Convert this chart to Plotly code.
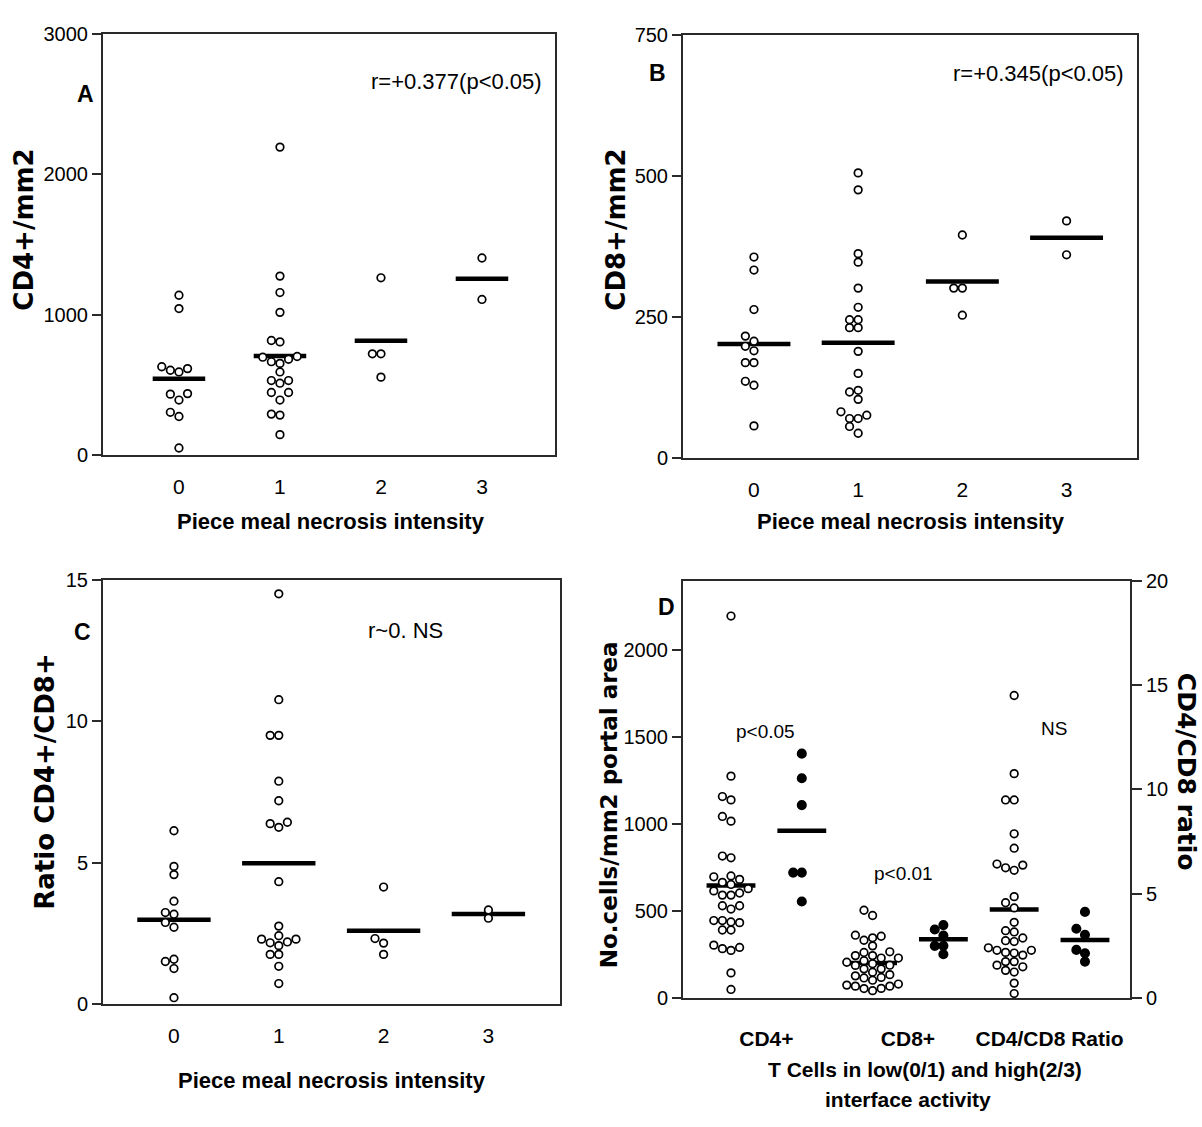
import plotly.graph_objects as go

W, H = 1202, 1127          # reference image size

# ---------------- data ----------------
grades = [0, 1, 2, 3]
grade_labels = ["0", "1", "2", "3"]

# Panel A: CD4+ cells / mm2 by piecemeal necrosis intensity
cd4_g0 = [1138, 1043, 629, 604, 592, 616, 438, 392, 434, 305, 275, 51]
cd4_g1 = [2192, 1274, 1157, 1016, 816, 806, 697, 682, 653, 665, 702, 592,
          531, 512, 531, 446, 392, 446, 292, 285, 146]
cd4_g2 = [1262, 721, 721, 555]
cd4_g3 = [1403, 1108]

# Panel B: CD8+ cells / mm2
cd8_g0 = [356, 333, 263, 207, 216, 198, 190, 169, 169, 136, 129, 57]
cd8_g1 = [505, 475, 362, 347, 301, 267, 245, 245, 231, 231, 189, 150,
          120, 117, 104, 82, 70, 70, 76, 56, 44]
cd8_g2 = [395, 301, 301, 253]
cd8_g3 = [420, 360]

# Panel C: CD4+/CD8+ ratio
ratio_g0 = [6.13, 4.87, 4.58, 3.64, 3.18, 3.24, 2.89, 2.72, 1.51, 1.59, 1.26, 0.23]
ratio_g1 = [14.5, 10.76, 9.5, 9.5, 7.88, 7.19, 6.38, 6.43, 6.25, 4.33, 2.76,
            2.30, 2.20, 2.07, 2.17, 2.30, 2.42, 1.76, 1.76, 1.34, 0.73]
ratio_g2 = [4.14, 2.32, 2.16, 1.76]
ratio_g3 = [3.33, 3.04]

# Panel D categories (low = grades 0/1, high = grades 2/3)
d_labels = ["CD4+", "CD8+", "CD4/CD8 Ratio"]

# ---------------- styling helpers ----------------
SANS = "Liberation Sans, Arial, Helvetica, sans-serif"
WIDE = "DejaVu Sans, Verdana, sans-serif"
AX = "#2a2a2a"


def pxx(x):
    return x / W


def pxy(y):
    return 1 - y / H


def swarm_offsets(vals, ppu_y, ppu_x, step=8.6, diam=8.0):
    n = len(vals)
    order = sorted(range(n), key=lambda i: vals[i])
    placed = []
    offs = [0.0] * n
    cand = [0]
    for k in range(1, 15):
        cand += [-k, k]
    for i in order:
        y = vals[i] * ppu_y
        xx = 0
        for c in cand:
            xx = c * step
            if all((xx - a) ** 2 + (y - b) ** 2 >= diam ** 2 for a, b in placed):
                break
        placed.append((xx, y))
        offs[i] = xx / ppu_x
    return offs


def mean(v):
    return sum(v) / len(v)


fig = go.Figure()

# panel geometry in reference pixels
panels = {
    "A": dict(xd=(103, 555), yd=(23, 453), xr=[-0.752, 3.723], yr=[0, 3000],
              ppx=101.0, ppy=430 / 3000, hw=0.26, ax="x", ay="y"),
    "B": dict(xd=(683, 1137), yd=(24, 456), xr=[-0.681, 3.676], yr=[0, 750],
              ppx=104.2, ppy=432 / 750, hw=0.35, ax="x2", ay="y2"),
    "C": dict(xd=(103, 560), yd=(580, 1013), xr=[-0.677, 3.683], yr=[0, 15],
              ppx=104.8, ppy=433 / 15, hw=0.35, ax="x3", ay="y3"),
    "D": dict(xd=(683, 1130), yd=(581, 1007), xr=[0.322, 6.636], yr=[0, 2395],
              ppx=70.8, ppy=426 / 2395, hw=0.345, ax="x4", ay="y4"),
}
D_RIGHT_RANGE = [0, 20]
D_RIGHT_PPY = 426 / 20


def add_group(pos, vals, p, yaxis=None, filled=False):
    ppy = p["ppy"] if yaxis is None else D_RIGHT_PPY
    offs = swarm_offsets(vals, ppy, p["ppx"])
    ya = p["ay"] if yaxis is None else yaxis
    m = mean(vals)
    fig.add_trace(go.Scatter(
        x=[pos - p["hw"], pos + p["hw"]], y=[m, m], mode="lines",
        line=dict(color="black", width=4.5), xaxis=p["ax"], yaxis=ya,
        showlegend=False, hoverinfo="skip"))
    fig.add_trace(go.Scatter(
        x=[pos + o for o in offs], y=vals, mode="markers",
        marker=dict(symbol="circle", size=8.4 if filled else 7.6,
                    color="black" if filled else "white",
                    line=dict(color="black", width=1.7)),
        xaxis=p["ax"], yaxis=ya, showlegend=False))


for key, groups in (("A", [cd4_g0, cd4_g1, cd4_g2, cd4_g3]),
                    ("B", [cd8_g0, cd8_g1, cd8_g2, cd8_g3]),
                    ("C", [ratio_g0, ratio_g1, ratio_g2, ratio_g3])):
    for g, vals in zip(grades, groups):
        add_group(g, vals, panels[key])

pD = panels["D"]
add_group(1, cd4_g0 + cd4_g1, pD)
add_group(2, cd4_g2 + cd4_g3, pD, filled=True)
add_group(3, cd8_g0 + cd8_g1, pD)
add_group(4, cd8_g2 + cd8_g3, pD, filled=True)
add_group(5, ratio_g0 + ratio_g1, pD, yaxis="y5")
add_group(6, ratio_g2 + ratio_g3, pD, yaxis="y5", filled=True)

# ---------------- axes ----------------
tickfont = dict(family=SANS, size=20, color="black")
common_line = dict(showline=True, linecolor=AX, linewidth=2, showgrid=False,
                   zeroline=False, fixedrange=True)

layout_axes = {}
names = {"A": ("xaxis", "yaxis", "y", "x"), "B": ("xaxis2", "yaxis2", "y2", "x2"),
         "C": ("xaxis3", "yaxis3", "y3", "x3"), "D": ("xaxis4", "yaxis4", "y4", "x4")}
ytickvals = {"A": [0, 1000, 2000, 3000], "B": [0, 250, 500, 750],
             "C": [0, 5, 10, 15], "D": [0, 500, 1000, 1500, 2000]}

for key, p in panels.items():
    xn, yn, yref, xref = names[key]
    xd = [pxx(p["xd"][0]), pxx(p["xd"][1])]
    yd = [pxy(p["yd"][1]), pxy(p["yd"][0])]
    if key == "D":
        xt = dict(tickvals=[1.5, 3.5, 5.5], ticktext=d_labels,
                  tickfont=dict(family=SANS, size=21, color="black", weight="bold"),
                  ticklabelstandoff=20)
    else:
        xt = dict(tickvals=grades, ticktext=grade_labels,
                  tickfont=dict(family=SANS, size=21, color="black"),
                  ticklabelstandoff=12)
    layout_axes[xn] = dict(domain=xd, range=p["xr"], anchor=yref, ticks="",
                           mirror=True, **xt, **common_line)
    layout_axes[yn] = dict(domain=yd, range=p["yr"], anchor=xref, ticks="outside",
                           ticklen=9, tickwidth=2, tickcolor=AX,
                           tickvals=ytickvals[key], tickfont=tickfont,
                           mirror=True, **common_line)

layout_axes["yaxis5"] = dict(overlaying="y4", side="right", anchor="x4",
                             range=D_RIGHT_RANGE, tickvals=[0, 5, 10, 15, 20],
                             ticks="outside", ticklen=10, tickwidth=2, tickcolor=AX,
                             tickfont=tickfont, **common_line)

# ---------------- annotations ----------------
ann = []


def note(text, x, y, size=22, family=SANS, angle=0, bold=False):
    ann.append(dict(text=f"<b>{text}</b>" if bold else text, x=pxx(x), y=pxy(y),
                    xref="paper", yref="paper", showarrow=False,
                    xanchor="center", yanchor="middle", textangle=angle,
                    font=dict(family=family, size=size, color="black")))


note("A", 85, 85, size=23, bold=True)
note("B", 657, 63, size=23, bold=True)
note("C", 82, 633, size=23, bold=True)
note("D", 667, 608, size=23, bold=True)
note("r=+0.377(p<0.05)", 456, 72, size=22)
note("r=+0.345(p<0.05)", 1038, 64, size=22)
note("r~0. NS", 405, 632, size=22)
note("p<0.05", 765, 735, size=19)
note("p<0.01", 903, 880, size=19)
note("NS", 1054, 732, size=19)

note("CD4+/mm2", 24, 223, size=26, family=WIDE, angle=-90, bold=True)
note("CD8+/mm2", 616, 223, size=26, family=WIDE, angle=-90, bold=True)
note("Ratio CD4+/CD8+", 45, 786, size=26, family=WIDE, angle=-90, bold=True)
note("No.cells/mm2 portal area", 609, 810, size=23, family=WIDE, angle=-90, bold=True)
note("CD4/CD8 ratio", 1186, 776, size=25, family=WIDE, angle=90, bold=True)

note("Piece meal necrosis intensity", 331, 521, size=22, bold=True)
note("Piece meal necrosis intensity", 911, 521, size=22, bold=True)
note("Piece meal necrosis intensity", 332, 1091, size=22, bold=True)
note("T Cells in low(0/1) and high(2/3)", 925, 1080, size=21, bold=True)
note("interface activity", 908, 1110, size=21, bold=True)

fig.update_layout(
    width=W, height=H, margin=dict(l=0, r=0, t=0, b=0),
    paper_bgcolor="white", plot_bgcolor="white",
    showlegend=False, annotations=ann, **layout_axes)

fig.write_html("out.html", config={"displayModeBar": False},
               post_script="document.body.style.margin='0';document.body.style.overflow='hidden';")
